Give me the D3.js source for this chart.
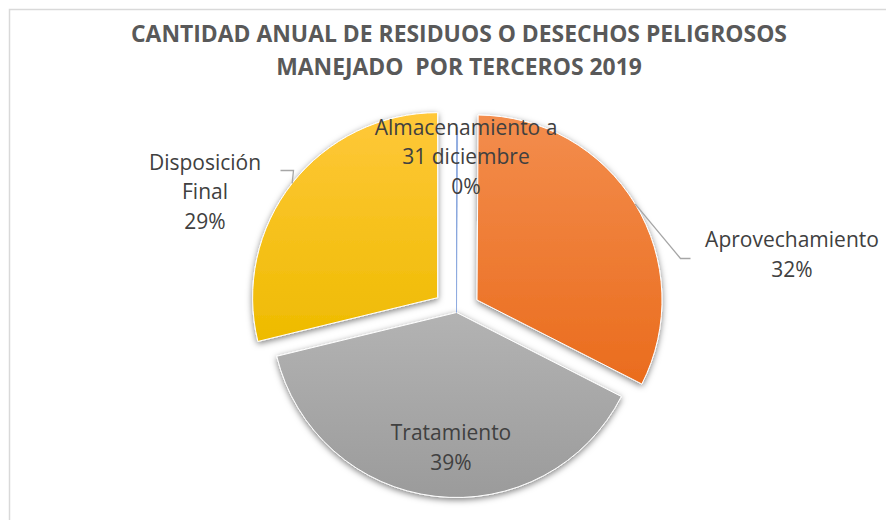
<!DOCTYPE html>
<html>
<head>
<meta charset="utf-8">
<script src="https://cdn.jsdelivr.net/npm/d3@7"></script>
<style>
  html, body { margin: 0; padding: 0; background: #fff; }
  svg { display: block; }
  text { font-family: "Open Sans", "Noto Sans", sans-serif; }
</style>
</head>
<body>
<div id="chart"></div>
<script>
// chart data
var categories = ['Almacenamiento a 31 diciembre', 'Aprovechamiento', 'Tratamiento', 'Disposición Final'];
var values = [0.1, 32.4, 38.7, 28.8];
var labelLines = [['Almacenamiento a', '31 diciembre'], ['Aprovechamiento'], ['Tratamiento'], ['Disposición', 'Final']];
var titleLines = ['CANTIDAD ANUAL DE RESIDUOS O DESECHOS PELIGROSOS', 'MANEJADO  POR TERCEROS 2019'];

// look of each slice (top colour, bottom colour)
var colorsTop = ['#7b9cda', '#f38d4d', '#b3b3b3', '#ffc83a'];
var colorsBottom = ['#4a76c4', '#ea6c1d', '#9b9b9b', '#eebb00'];
var explode = [0, 24, 0, 24];
// label block centre relative to pie centre, and optional leader elbow
var labelAnchor = [[9.5, -155.5], [335.5, -57.5], [-5.5, 135.5], [-251.5, -120.5]];
var leaderElbow = [null, [[224, -54], [234, -54]], null, [[-163, -142], [-176, -142]]];

var width = 886, height = 520;
var cx = 456.5, cy = 312.5, radius = 185;
var lineHeight = 29.5;

var svg = d3.select('#chart').append('svg')
    .attr('width', width)
    .attr('height', height);

var defs = svg.append('defs');

var shadow = defs.append('filter')
    .attr('id', 'shadow')
    .attr('x', '-20%').attr('y', '-20%')
    .attr('width', '140%').attr('height', '140%');
shadow.append('feDropShadow')
    .attr('dx', 0).attr('dy', 2)
    .attr('stdDeviation', 3)
    .attr('flood-color', '#000')
    .attr('flood-opacity', 0.5);

categories.forEach(function (c, i) {
    var g = defs.append('linearGradient')
        .attr('id', 'grad' + i)
        .attr('x1', 0).attr('y1', 0)
        .attr('x2', 0).attr('y2', 1);
    g.append('stop').attr('offset', '0%').attr('stop-color', colorsTop[i]);
    g.append('stop').attr('offset', '100%').attr('stop-color', colorsBottom[i]);
});

// chart area border
svg.append('rect')
    .attr('x', 9.5).attr('y', 9.5)
    .attr('width', width + 20).attr('height', height + 20)
    .attr('fill', 'none')
    .attr('stroke', '#d9d9d9')
    .attr('stroke-width', 1.5);

// title
svg.append('g')
    .selectAll('text')
    .data(titleLines)
    .enter().append('text')
    .attr('x', 459)
    .attr('y', function (d, i) { return 42 + i * 33; })
    .attr('text-anchor', 'middle')
    .attr('font-size', '22.9px')
    .attr('font-weight', 'bold')
    .attr('fill', '#595959')
    .style('white-space', 'pre')
    .text(function (d) { return d; });

var pie = d3.pie().sort(null).value(function (d) { return d; });
var arcs = pie(values);
var arc = d3.arc().innerRadius(0).outerRadius(radius);

function offsetOf(d, i) {
    var mid = (d.startAngle + d.endAngle) / 2;
    return [Math.sin(mid) * explode[i], -Math.cos(mid) * explode[i]];
}

var total = d3.sum(values);

var pieG = svg.append('g')
    .attr('transform', 'translate(' + cx + ',' + cy + ')');

// draw big slices first, thin one on top
var order = [1, 2, 3, 0];
pieG.selectAll('path.slice')
    .data(order.map(function (i) { return { a: arcs[i], i: i }; }))
    .enter().append('path')
    .attr('class', 'slice')
    .attr('d', function (d) { return arc(d.a); })
    .attr('transform', function (d) {
        var o = offsetOf(d.a, d.i);
        return 'translate(' + o[0] + ',' + o[1] + ')';
    })
    .attr('fill', function (d) { return 'url(#grad' + d.i + ')'; })
    .attr('stroke', function (d) { return d.i === 0 ? colorsTop[0] : '#fff'; })
    .attr('stroke-width', function (d) { return d.i === 0 ? 0.6 : 1; })
    .attr('filter', function (d) { return d.i === 0 ? null : 'url(#shadow)'; });

// leader lines
arcs.forEach(function (d, i) {
    if (!leaderElbow[i]) return;
    var mid = (d.startAngle + d.endAngle) / 2;
    var o = offsetOf(d, i);
    var start = [Math.sin(mid) * radius + o[0], -Math.cos(mid) * radius + o[1]];
    var pts = [start].concat(leaderElbow[i]);
    pieG.append('path')
        .attr('d', d3.line()(pts))
        .attr('fill', 'none')
        .attr('stroke', '#a6a6a6')
        .attr('stroke-width', 1.3);
});

// data labels
var fmt = d3.format('.0%');
arcs.forEach(function (d, i) {
    var lines = labelLines[i].concat([fmt(values[i] / total)]);
    var n = lines.length;
    var t = pieG.append('text')
        .attr('text-anchor', 'middle')
        .attr('font-size', '21px')
        .attr('fill', '#404040');
    lines.forEach(function (s, k) {
        t.append('tspan')
            .attr('x', labelAnchor[i][0])
            .attr('y', labelAnchor[i][1] + (k - (n - 1) / 2) * lineHeight + 7)
            .text(s);
    });
});
</script>
</body>
</html>
